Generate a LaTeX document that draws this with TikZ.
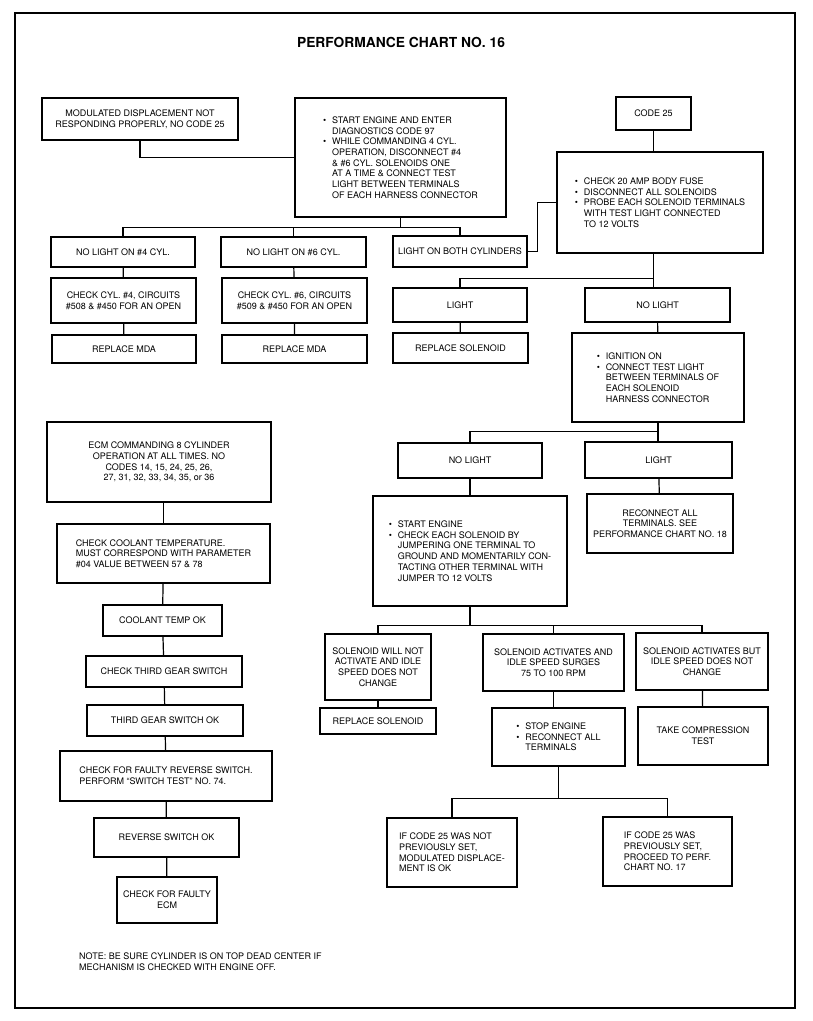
\documentclass[tikz,border=0pt]{standalone}
\usepackage{fontspec}
\setmainfont{TeX Gyre Heros}
\usepackage{tikz}

\newcommand{\bitem}{\makebox[9pt][l]{\textbullet}}
\newcommand{\bskip}{\hspace*{9pt}}

\tikzset{
  chartbox/.style={draw, line width=1.2pt, align=center, inner sep=0pt,
    font=\fontsize{9}{10.7}\selectfont},
  listbox/.style={chartbox, align=left},
  link/.style={line width=1.2pt}
}

\begin{document}
\begin{tikzpicture}[x=1pt, y=-1pt]
    \useasboundingbox (0,0) rectangle (812,1021);
    \draw [line width=1.3pt] (15,13) rectangle (795,1008); % Outer frame
    \node [font=\bfseries\fontsize{13.8}{16}\selectfont] (title) at (401,42) {PERFORMANCE CHART NO. 16};

    % Top row
    \node [chartbox, minimum width=196, minimum height=42] (mdnr) at (140,119) {MODULATED DISPLACEMENT NOT\\RESPONDING PROPERLY, NO CODE 25};
    \node [listbox, minimum width=211, minimum height=119] (start) at (400.5,157.5) {\bitem START ENGINE AND ENTER\\\bskip DIAGNOSTICS CODE 97\\\bitem WHILE COMMANDING 4 CYL.\\\bskip OPERATION, DISCONNECT \#4\\\bskip \& \#6 CYL. SOLENOIDS ONE\\\bskip AT A TIME \& CONNECT TEST\\\bskip LIGHT BETWEEN TERMINALS\\\bskip OF EACH HARNESS CONNECTOR};
    \node [chartbox, minimum width=75, minimum height=33] (code25) at (653.5,113.5) {CODE 25};
    \node [listbox, minimum width=206, minimum height=101] (fuse) at (660,202.5) {\bitem CHECK 20 AMP BODY FUSE\\\bitem DISCONNECT ALL SOLENOIDS\\\bitem PROBE EACH SOLENOID TERMINALS\\\bskip WITH TEST LIGHT CONNECTED\\\bskip TO 12 VOLTS};

    % Cylinder checks
    \node [chartbox, minimum width=144, minimum height=30] (nl4) at (123,252) {NO LIGHT ON \#4 CYL.};
    \node [chartbox, minimum width=145, minimum height=30] (nl6) at (293.5,252) {NO LIGHT ON \#6 CYL.};
    \node [chartbox, minimum width=134, minimum height=31] (both) at (460,251.5) {LIGHT ON BOTH CYLINDERS};
    \node [chartbox, minimum width=145, minimum height=45] (chk4) at (123.5,300.5) {CHECK CYL. \#4, CIRCUITS\\\#508 \& \#450 FOR AN OPEN};
    \node [chartbox, minimum width=145, minimum height=45] (chk6) at (294.5,300.5) {CHECK CYL. \#6, CIRCUITS\\\#509 \& \#450 FOR AN OPEN};
    \node [chartbox, minimum width=144, minimum height=28] (mda4) at (124,349) {REPLACE MDA};
    \node [chartbox, minimum width=145, minimum height=28] (mda6) at (294.5,349) {REPLACE MDA};

    % Code 25 branch
    \node [chartbox, minimum width=134, minimum height=34] (light1) at (460,305) {LIGHT};
    \node [chartbox, minimum width=145, minimum height=34] (nolight1) at (657.5,305) {NO LIGHT};
    \node [chartbox, minimum width=135, minimum height=30] (repsol1) at (460.5,348) {REPLACE SOLENOID};
    \node [listbox, minimum width=172, minimum height=89] (ign) at (658,377.5) {\bitem IGNITION ON\\\bitem CONNECT TEST LIGHT\\\bskip BETWEEN TERMINALS OF\\\bskip EACH SOLENOID\\\bskip HARNESS CONNECTOR};
    \node [chartbox, minimum width=144, minimum height=35] (nolight2) at (470,460.5) {NO LIGHT};
    \node [chartbox, minimum width=147, minimum height=36] (light2) at (658.5,460) {LIGHT};
    \node [listbox, minimum width=194, minimum height=110] (jump) at (470,551) {\bitem START ENGINE\\\bitem CHECK EACH SOLENOID BY\\\bskip JUMPERING ONE TERMINAL TO\\\bskip GROUND AND MOMENTARILY CON-\\\bskip TACTING OTHER TERMINAL WITH\\\bskip JUMPER TO 12 VOLTS};
    \node [chartbox, minimum width=146, minimum height=59] (recon) at (660,523.5) {RECONNECT ALL\\TERMINALS. SEE\\PERFORMANCE CHART NO. 18};

    % Solenoid test results
    \node [chartbox, minimum width=106, minimum height=66] (notact) at (378,667) {SOLENOID WILL NOT\\ACTIVATE AND IDLE\\SPEED DOES NOT\\CHANGE};
    \node [chartbox, minimum width=141, minimum height=57] (surge) at (553.5,662.5) {SOLENOID ACTIVATES AND\\IDLE SPEED SURGES\\75 TO 100 RPM};
    \node [chartbox, minimum width=132, minimum height=57] (nochg) at (702,661.5) {SOLENOID ACTIVATES BUT\\IDLE SPEED DOES NOT\\CHANGE};
    \node [chartbox, minimum width=116, minimum height=26] (repsol2) at (378,721) {REPLACE SOLENOID};
    \node [listbox, minimum width=133, minimum height=58] (stop) at (558.5,737) {\bitem STOP ENGINE\\\bitem RECONNECT ALL\\\bskip TERMINALS};
    \node [chartbox, minimum width=130, minimum height=58] (comp) at (703,736) {TAKE COMPRESSION\\TEST};
    \node [listbox, minimum width=130, minimum height=69] (notset) at (452,852.5) {IF CODE 25 WAS NOT\\PREVIOUSLY SET,\\MODULATED DISPLACE-\\MENT IS OK};
    \node [listbox, minimum width=129, minimum height=69] (wasset) at (667.5,851.5) {IF CODE 25 WAS\\PREVIOUSLY SET,\\PROCEED TO PERF.\\CHART NO. 17};

    % Left column
    \node [chartbox, minimum width=224, minimum height=80] (ecm8) at (159,462) {ECM COMMANDING 8 CYLINDER\\OPERATION AT ALL TIMES. NO\\CODES 14, 15, 24, 25, 26,\\27, 31, 32, 33, 34, 35, or 36};
    \node [listbox, minimum width=213, minimum height=59] (coolchk) at (163.5,553.5) {CHECK COOLANT TEMPERATURE.\\MUST CORRESPOND WITH PARAMETER\\\#04 VALUE BETWEEN 57 \& 78};
    \node [chartbox, minimum width=119, minimum height=31] (coolok) at (162.5,620.5) {COOLANT TEMP OK};
    \node [chartbox, minimum width=156, minimum height=31] (gearchk) at (164,671.5) {CHECK THIRD GEAR SWITCH};
    \node [chartbox, minimum width=156, minimum height=31] (gearok) at (165,720.5) {THIRD GEAR SWITCH OK};
    \node [listbox, minimum width=212, minimum height=50] (revchk) at (166,776) {CHECK FOR FAULTY REVERSE SWITCH.\\PERFORM ``SWITCH TEST'' NO. 74.};
    \node [chartbox, minimum width=145, minimum height=39] (revok) at (166.5,837.5) {REVERSE SWITCH OK};
    \node [chartbox, minimum width=100, minimum height=46] (ecmchk) at (167,900) {CHECK FOR FAULTY\\ECM};
    \node [anchor=north west, align=left, inner sep=0pt, font=\fontsize{9}{10.5}\selectfont] (note) at (79,953) {NOTE: BE SURE CYLINDER IS ON TOP DEAD CENTER IF\\MECHANISM IS CHECKED WITH ENGINE OFF.};

    % Connectors
    \draw [link] (mdnr.south) |- (start.west);
    \draw [link] (start.south) -- ++(0,10) coordinate (bus1);
    \draw [link] (nl4.north) |- (bus1) -| (both.north);
    \draw [link] (nl6.north) -- (nl6.north |- bus1);
    \draw [link] (nl4) -- (chk4) -- (mda4);
    \draw [link] (nl6) -- (chk6) -- (mda6);
    \draw [link] (code25.south) -- (code25.south |- fuse.north);
    \draw [link] (both.east) -- ++(10,0) |- (fuse.west);
    \draw [link] (code25 |- fuse.south) -- ++(0,25) coordinate (bus2);
    \draw [link] (bus2) -- (bus2 |- nolight1.north);
    \draw [link] (bus2) -| (light1.north);
    \draw [link] (light1) -- (repsol1);
    \draw [link] (nolight1) -- (ign);
    \draw [link] (ign.south) -- ++(0,9) coordinate (bus3);
    \draw [link] (bus3) -- (bus3 |- light2.north);
    \draw [link] (bus3) -| (nolight2.north);
    \draw [link] (nolight2) -- (jump);
    \draw [link] (light2) -- (recon);
    \draw [link] (jump.south) -- ++(0,19) coordinate (bus4);
    \draw [link] (notact.north) |- (bus4) -| (nochg.north);
    \draw [link] (surge.north) -- (surge.north |- bus4);
    \draw [link] (notact) -- (repsol2);
    \draw [link] (surge.south) -- (surge.south |- stop.north);
    \draw [link] (nochg) -- (comp);
    \draw [link] (stop.south) -- ++(0,32) coordinate (bus5);
    \draw [link] (notset.north) |- (bus5) -| (wasset.north);
    \draw [link] (ecm8.south -| coolchk) -- (coolchk.north);
    \draw [link] (coolchk) -- (coolok) -- (gearchk) -- (gearok) -- (revchk) -- (revok) -- (ecmchk);
\end{tikzpicture}
\end{document}
